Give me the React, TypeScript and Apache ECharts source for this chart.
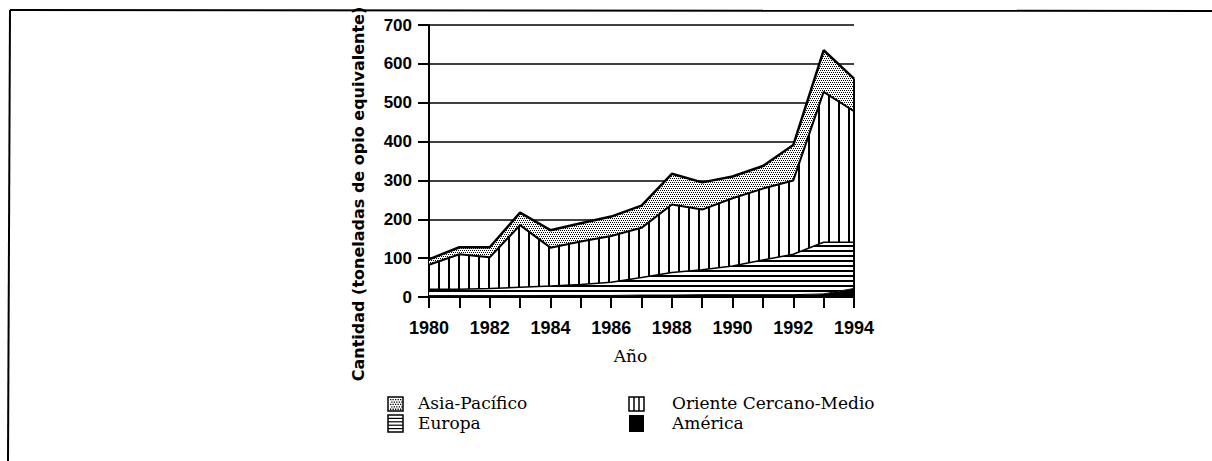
import React, { useEffect, useRef } from "react";
import * as echarts from "echarts";

const years = ["1980","1981","1982","1983","1984","1985","1986","1987","1988","1989","1990","1991","1992","1993","1994"];
const america = [3, 3, 3, 3, 4, 4, 4, 5, 5, 6, 6, 6, 6, 8, 22];
const europa = [17, 17, 19, 22, 24, 28, 34, 45, 58, 64, 74, 89, 104, 133, 119];
const oriente = [63, 90, 80, 160, 99, 111, 119, 128, 175, 155, 174, 184, 190, 387, 337];
const asia = [14, 18, 26, 32, 45, 47, 50, 57, 79, 70, 56, 58, 91, 107, 84];
const yTicks = { min: 0, max: 700, interval: 100 };

const legendItems = [
  { name: "Asia-Pacífico", kind: "dots", col: 0, row: 0 },
  { name: "Oriente Cercano-Medio", kind: "vlines", col: 1, row: 0 },
  { name: "Europa", kind: "hlines", col: 0, row: 1 },
  { name: "América", kind: "solid", col: 1, row: 1 },
];

const SERIF = "'DejaVu Serif', 'Liberation Serif', serif";
const SANS = "'Liberation Sans', Arial, sans-serif";
const WIDE_SANS = "'DejaVu Sans', 'Liberation Sans', sans-serif";

function legendIcon(kind: string, x: number, y: number, w: number, h: number) {
  const children: any[] = [];
  if (kind === "solid") {
    children.push({ type: "rect", shape: { x, y, width: w, height: h }, style: { fill: "#000" } });
    return children;
  }
  children.push({ type: "rect", shape: { x, y, width: w, height: h }, style: { fill: "#fff", stroke: "#000", lineWidth: 1.5 } });
  if (kind === "dots") {
    for (let j = 0; j < 5; j++) {
      for (let i = 0; i < 5; i++) {
        children.push({ type: "rect", shape: { x: x + 2 + i * 2.5 + (j % 2) * 1.2, y: y + 2 + j * 2.4, width: 1.3, height: 1.3 }, style: { fill: "#000" } });
      }
    }
  } else if (kind === "hlines") {
    for (let j = 1; j < 5; j++) {
      children.push({ type: "line", shape: { x1: x, y1: y + j * (h / 5), x2: x + w, y2: y + j * (h / 5) }, style: { stroke: "#000", lineWidth: 1.2 } });
    }
  } else if (kind === "vlines") {
    for (let i = 1; i < 3; i++) {
      children.push({ type: "line", shape: { x1: x + i * (w / 3), y1: y, x2: x + i * (w / 3), y2: y + h }, style: { stroke: "#000", lineWidth: 1.5 } });
    }
  }
  return children;
}

export default function App() {
  const ref = useRef<HTMLDivElement>(null);
  useEffect(() => {
    document.body.style.margin = "0";
    const chart = echarts.init(ref.current!, null, { renderer: "svg" });
    const total1994 = america[14] + europa[14] + oriente[14] + asia[14];

    const legendGraphics: any[] = [];
    legendItems.forEach((it) => {
      const ix = it.col === 0 ? 388 : 629;
      const iy = it.row === 0 ? 397 : 415;
      const tx = it.col === 0 ? 418 : 672;
      const ty = it.row === 0 ? 403 : 423;
      legendGraphics.push({ type: "group", children: legendIcon(it.kind, ix, iy, 15, it.row === 0 ? 14 : 17) });
      legendGraphics.push({
        type: "text", x: tx, y: ty,
        style: { text: it.name, font: `17px ${SERIF}`, lineHeight: 17, fill: "#000", verticalAlign: "middle" },
      });
    });

    const option: any = {
      animation: false,
      backgroundColor: "#fff",
      grid: { left: 429, right: 358, top: 25, bottom: 164, containLabel: false },
      xAxis: {
        type: "category",
        data: years,
        boundaryGap: false,
        name: "Año",
        nameLocation: "middle",
        nameGap: 50,
        nameTextStyle: { fontFamily: SERIF, fontSize: 17, color: "#000", padding: [0, 22, 0, 0] },
        axisLine: { lineStyle: { color: "#000", width: 2 } },
        axisTick: { show: true, interval: 0, length: 11, lineStyle: { color: "#000", width: 2 } },
        axisLabel: { interval: 1, margin: 22, fontFamily: SANS, fontWeight: "bold", fontSize: 18, color: "#000" },
        splitLine: { show: false },
      },
      yAxis: {
        type: "value",
        min: yTicks.min, max: yTicks.max, interval: yTicks.interval,
        axisLine: { show: true, lineStyle: { color: "#000", width: 2 } },
        axisTick: { show: true, length: 11, lineStyle: { color: "#000", width: 2 } },
        axisLabel: { margin: 17, fontFamily: SANS, fontWeight: "bold", fontSize: 17, color: "#000" },
        splitLine: { show: true, lineStyle: { color: "#000", width: 1.5 } },
      },
      series: [
        {
          name: "América", type: "line", stack: "total", data: america, symbol: "none",
          lineStyle: { color: "#000", width: 1 },
          itemStyle: { color: "#000" },
          areaStyle: { color: "#000", opacity: 1 },
        },
        {
          name: "Europa", type: "line", stack: "total", data: europa, symbol: "none",
          lineStyle: { color: "#000", width: 1.5 },
          itemStyle: { color: "#fff", decal: { symbol: "rect", color: "#000", backgroundColor: "#fff", dashArrayX: [8, 0], dashArrayY: [2, 3], symbolSize: 1 } },
          areaStyle: { color: "#fff", opacity: 1 },
        },
        {
          name: "Oriente Cercano-Medio", type: "line", stack: "total", data: oriente, symbol: "none",
          lineStyle: { color: "#000", width: 2 },
          itemStyle: { color: "#fff", decal: { symbol: "rect", color: "#000", backgroundColor: "#fff", dashArrayX: [[0, 8, 2, 0]], dashArrayY: [8, 0], symbolSize: 1 } },
          areaStyle: { color: "#fff", opacity: 1 },
        },
        {
          name: "Asia-Pacífico", type: "line", stack: "total", data: asia, symbol: "none",
          lineStyle: { color: "#000", width: 2.5 },
          itemStyle: { color: "#fff", decal: { symbol: "rect", color: "#000", backgroundColor: "#fff", dashArrayX: [[1, 1], [0, 1, 1, 0]], dashArrayY: [1, 1], symbolSize: 1 } },
          areaStyle: { color: "#fff", opacity: 1 },
          markLine: {
            silent: true, symbol: "none", label: { show: false },
            lineStyle: { color: "#000", width: 2, type: "solid" },
            data: [[{ coord: ["1994", 0] }, { coord: ["1994", total1994] }]],
          },
        },
      ],
      graphic: [
        { type: "line", shape: { x1: 10, y1: 10, x2: 1212, y2: 11 }, style: { stroke: "#000", lineWidth: 2 } },
        { type: "line", shape: { x1: 10, y1: 10, x2: 8, y2: 461 }, style: { stroke: "#000", lineWidth: 2 } },
        {
          type: "text", x: 358, y: 194, rotation: Math.PI / 2,
          style: { text: "Cantidad (toneladas de opio equivalente)", font: `bold 16px ${WIDE_SANS}`, fill: "#000", align: "center", verticalAlign: "middle" },
        },
        ...legendGraphics,
      ],
    };
    chart.setOption(option);
    return () => chart.dispose();
  }, []);
  return <div ref={ref} style={{ width: 1212, height: 461 }} />;
}
